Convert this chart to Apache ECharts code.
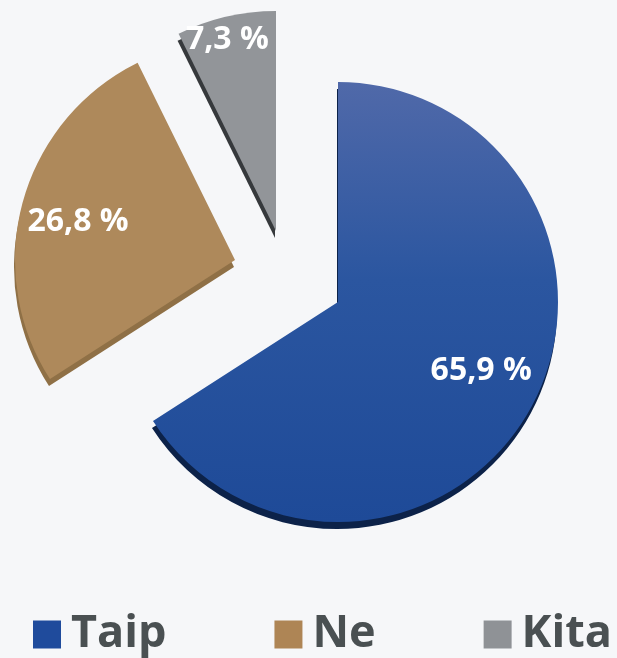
<!DOCTYPE html>
<html>
<head>
<meta charset="utf-8">
<script src="https://cdn.jsdelivr.net/npm/echarts@6/dist/echarts.min.js"></script>
<style>
html,body{margin:0;padding:0;background:#f6f7f9;}
#chart{width:617px;height:658px;}
</style>
</head>
<body>
<div id="chart"></div>
<script>
// data
var names = ['Taip', 'Ne', 'Kita'];
var values = [65.9, 26.8, 7.3];

// looks
var faceColors = [
    new echarts.graphic.LinearGradient(0, 0, 0, 1, [{offset:0, color:'#5069a9'}, {offset:0.45, color:'#2b56a0'}, {offset:1, color:'#1e4a98'}]),
    '#ae895b',
    '#929599'
];
var legendColors = ['#1f4b9c', '#ae8555', '#8f9296'];
var sideColors = ['#0c2249', '#8f7046', '#36393c'];
var centers = [[338, 302], [235, 260], [276, 231]];
var labelShift = [[44, 15], [-48, -8], [-23, -81]];

function fmt(v){
    return String(v).replace('.', ',') + ' %';
}

function makeSeries(k){
    return {
        name: names[k],
        type: 'pie',
        radius: [0, 220],
        center: centers[k],
        startAngle: 90,
        clockwise: true,
        silent: true,
        animation: false,
        emphasis: {disabled: true},
        labelLine: {show: false},
        labelLayout: function(){
            return {dx: labelShift[k][0], dy: labelShift[k][1]};
        },
        data: names.map(function(n, i){
            if (i !== k) {
                return {name: n, value: values[i], itemStyle: {color: 'rgba(0,0,0,0)', shadowColor: 'rgba(0,0,0,0)'}, label: {show: false}};
            }
            return {
                name: n,
                value: values[i],
                itemStyle: {
                    color: faceColors[i],
                    shadowColor: sideColors[i],
                    shadowBlur: 0,
                    shadowOffsetX: -1,
                    shadowOffsetY: 7
                },
                label: {
                    show: true,
                    position: 'inside',
                    formatter: fmt(values[i]),
                    color: '#ffffff',
                    fontFamily: 'Open Sans',
                    fontWeight: 'bold',
                    fontSize: 32
                }
            };
        })
    };
}

var chart = echarts.init(document.getElementById('chart'));
chart.setOption({
    backgroundColor: '#f6f7f9',
    legend: {
        left: 33,
        top: 612,
        width: 700,
        padding: 0,
        icon: 'rect',
        itemWidth: 28,
        itemHeight: 28,
        itemGap: 108,
        selectedMode: false,
        textStyle: {
            color: '#4a5052',
            fontFamily: 'Open Sans',
            fontWeight: 'bold',
            fontSize: 45,
            padding: [0, 0, 0, 5]
        },
        data: names.map(function(n, i){
            return {name: n, itemStyle: {color: legendColors[i]}};
        })
    },
    series: [makeSeries(0), makeSeries(1), makeSeries(2)]
});
</script>
</body>
</html>
